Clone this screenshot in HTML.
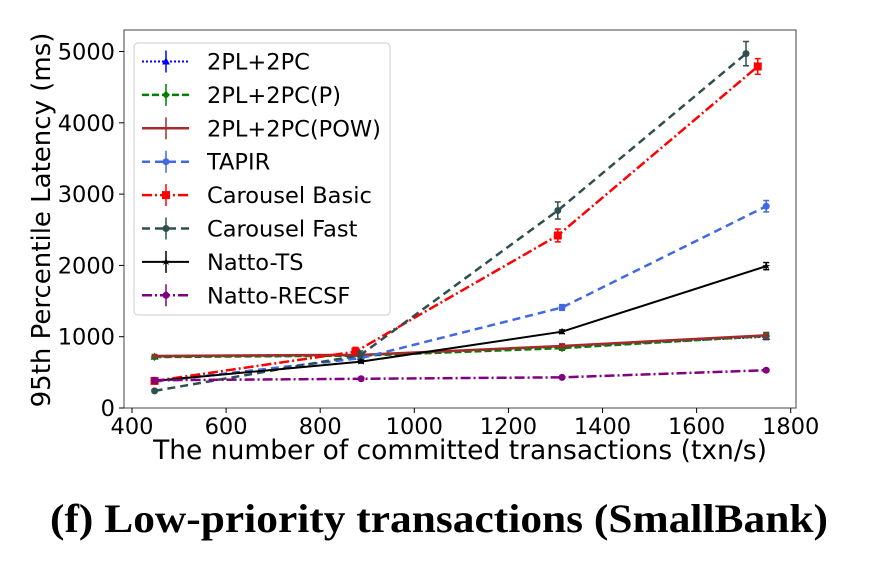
<!DOCTYPE html>
<html><head><meta charset="utf-8"><style>
body{margin:0;background:#fff;width:878px;height:568px;overflow:hidden}
svg{position:absolute;left:0;top:0}
</style></head><body>
<svg id="c" width="878" height="568" xmlns="http://www.w3.org/2000/svg"></svg>
<script>
const xTicks=[400,600,800,1000,1200,1400,1600,1800];
const yTicks=[0,1000,2000,3000,4000,5000];
const names=["2PL+2PC","2PL+2PC(P)","2PL+2PC(POW)","TAPIR","Carousel Basic","Carousel Fast","Natto-TS","Natto-RECSF"];
const xs2pl=[448,887,1314,1748];
const ys2pl=[720,740,860,1000];
const xsP=[448,887,1314,1748];
const ysP=[715,735,840,1010];
const xsPow=[448,887,1314,1748];
const ysPow=[730,745,870,1020];
const xsTapir=[448,887,1314,1748];
const ysTapir=[370,700,1410,2830];
const xsBasic=[448,875,1305,1730];
const ysBasic=[380,790,2420,4790];
const xsFast=[448,885,1305,1705];
const ysFast=[240,740,2770,4970];
const xsTS=[448,887,1314,1748];
const ysTS=[380,650,1070,1990];
const xsRec=[448,887,1314,1748];
const ysRec=[390,410,430,530];
const errs=[[20,20,30,40],[20,20,30,40],[20,20,30,40],[20,30,40,80],[30,60,90,110],[20,60,120,170],[15,20,25,50],[15,15,15,20]];
const X=v=>132+(v-400)/200*94.1;
const Y=v=>408-v/1000*71.3;
const svg=document.getElementById('c');
const NS='http://www.w3.org/2000/svg';
const FF='DejaVu Sans, sans-serif';
function mk(t,a,p){const e=document.createElementNS(NS,t);for(const k in a)e.setAttribute(k,a[k]);(p||svg).appendChild(e);return e;}
const series=[
{x:xs2pl,y:ys2pl,c:'#0000ff',d:'2 2',m:'tri',w:2},
{x:xsP,y:ysP,c:'#008000',d:'7 3',m:'dia',w:2.5},
{x:xsPow,y:ysPow,c:'#a52a2a',d:'',m:'none',w:2.5},
{x:xsTapir,y:ysTapir,c:'#4169e1',d:'8 5',m:'dot',w:2.5},
{x:xsBasic,y:ysBasic,c:'#ff0000',d:'10 3 2 3',m:'sq',w:2.5},
{x:xsFast,y:ysFast,c:'#2f4f4f',d:'8 5',m:'dot',w:2.5},
{x:xsTS,y:ysTS,c:'#000000',d:'',m:'star',w:2},
{x:xsRec,y:ysRec,c:'#800080',d:'10 3 2 3',m:'dot',w:2.5}];
let fr=mk('rect',{x:124,y:30,width:672,height:378,fill:'none',stroke:'#444','stroke-width':1});


xTicks.forEach(t=>{const g=mk('g',{});


mk('line',{x1:X(t),x2:X(t),y1:408,y2:413,stroke:'#000'},g);
const tx=mk('text',{x:X(t),y:434,'text-anchor':'middle','font-size':'22.5','font-family':FF},g);tx.textContent=t;});
yTicks.forEach(t=>{const g=mk('g',{});


mk('line',{x1:119,x2:124,y1:Y(t),y2:Y(t),stroke:'#000'},g);
const tx=mk('text',{x:115,y:Y(t)+8,'text-anchor':'end','font-size':'22.5','font-family':FF},g);tx.textContent=t;});
function marker(g,m,x,y,c){
 if(m==='dot')mk('circle',{cx:x,cy:y,r:3.5,fill:c},g);
 else if(m==='sq')mk('rect',{x:x-4,y:y-4,width:8,height:8,fill:c},g);
 else if(m==='tri')mk('path',{d:`M${x},${y-4}L${x+4},${y+3}L${x-4},${y+3}Z`,fill:c},g);
 else if(m==='dia')mk('path',{d:`M${x},${y-4}L${x+4},${y}L${x},${y+4}L${x-4},${y}Z`,fill:c},g);
 else if(m==='star')mk('path',{d:`M${x},${y-4}L${x+3},${y+3}L${x-4},${y-1}L${x+4},${y-1}L${x-3},${y+3}Z`,fill:c},g);
}
series.forEach((s,i)=>{const g=mk('g',{});


const pts=s.x.map((v,j)=>X(v)+','+Y(s.y[j])).join(' ');
mk('polyline',{points:pts,fill:'none',stroke:s.c,'stroke-width':s.w,'stroke-dasharray':s.d},g);
s.x.forEach((v,j)=>{const px=X(v),e=errs[i][j];
mk('line',{x1:px,x2:px,y1:Y(s.y[j]+e),y2:Y(s.y[j]-e),stroke:s.c,'stroke-width':1.5},g);
mk('line',{x1:px-3,x2:px+3,y1:Y(s.y[j]+e),y2:Y(s.y[j]+e),stroke:s.c,'stroke-width':1.5},g);
mk('line',{x1:px-3,x2:px+3,y1:Y(s.y[j]-e),y2:Y(s.y[j]-e),stroke:s.c,'stroke-width':1.5},g);
marker(g,s.m,px,Y(s.y[j]),s.c);});});
const lg=mk('g',{});


mk('rect',{x:134,y:43,width:256,height:272,rx:4,fill:'#fff','fill-opacity':0.85,stroke:'#ccc'},lg);
series.forEach((s,i)=>{const y=61.5+i*33.4;const g=mk('g',{},lg);


mk('line',{x1:142,x2:189,y1:y,y2:y,stroke:s.c,'stroke-width':s.w,'stroke-dasharray':s.d},g);
mk('line',{x1:166,x2:166,y1:y-11,y2:y+11,stroke:s.c,'stroke-width':1.5},g);
marker(g,s.m,166,y,s.c);
const t=mk('text',{x:207,y:y+8,'font-size':'22.5','font-family':FF},g);t.textContent=names[i];});
let yl=mk('text',{x:0,y:0,transform:'translate(50,220) rotate(-90)','text-anchor':'middle','font-size':'26','font-family':FF});
yl.textContent='95th Percentile Latency (ms)';


let xl=mk('text',{x:460,y:459,'text-anchor':'middle','font-size':'26.5','font-family':FF});
xl.textContent='The number of committed transactions (txn/s)';


let cap=mk('text',{x:439,y:532,'text-anchor':'middle','font-size':'40','font-weight':'bold','font-family':'Liberation Serif, serif',textLength:'778',lengthAdjust:'spacingAndGlyphs'});
cap.textContent='(f) Low-priority transactions (SmallBank)';


</script>
</body></html>
